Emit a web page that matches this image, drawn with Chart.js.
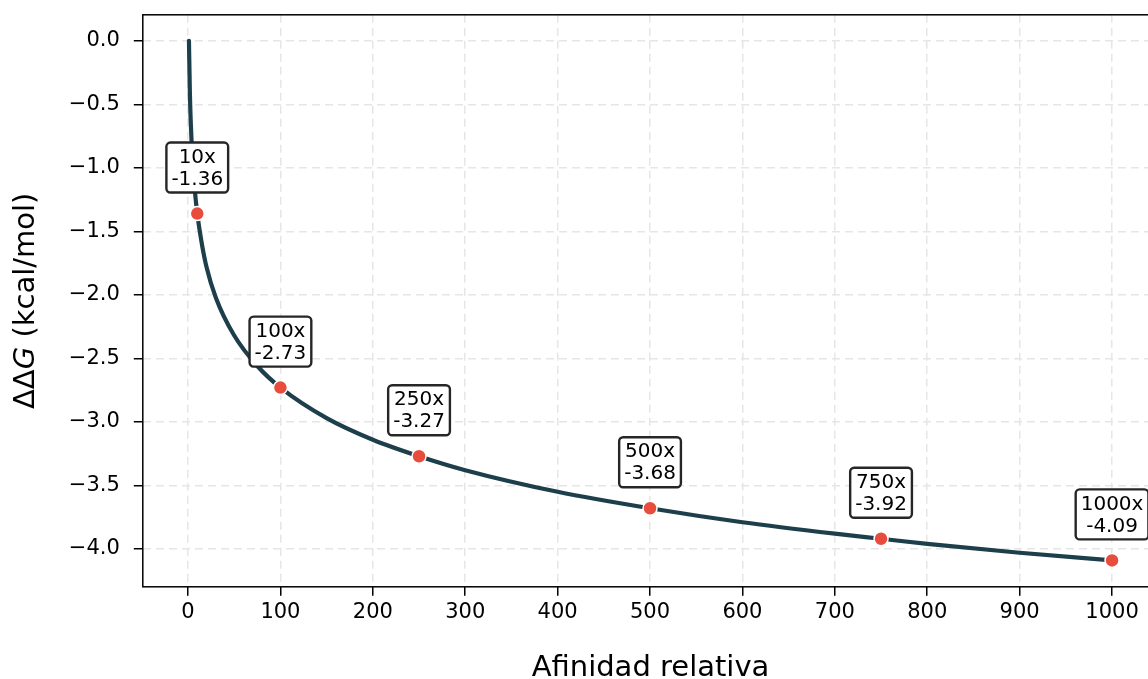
<!DOCTYPE html>
<html>
<head>
<meta charset="utf-8">
<script src="https://cdn.jsdelivr.net/npm/chart.js@4"></script>
<style>
  html, body { margin: 0; padding: 0; overflow: hidden; background: #fff; width: 1148px; height: 679px; }
  #wrap { position: absolute; left: 0; top: 0; width: 1170px; height: 679px; }
</style>
</head>
<body>
<div id="wrap"><canvas id="c" width="1170" height="679"></canvas></div>
<script>
// Binding free energy change vs. relative affinity
const curveX = [1, 2, 3, 5, 7, 10, 15, 20, 30, 50, 75, 100, 150, 200, 250, 300, 400, 500, 600, 700, 750, 800, 900, 1000];
const curveY = [0.00, -0.41, -0.65, -0.95, -1.15, -1.36, -1.60, -1.78, -2.02, -2.32, -2.56, -2.73, -2.97, -3.14, -3.27, -3.38, -3.55, -3.68, -3.79, -3.88, -3.92, -3.96, -4.03, -4.09];

// Highlighted affinity factors and their values
const markX = [10, 100, 250, 500, 750, 1000];
const markY = [-1.36, -2.73, -3.27, -3.68, -3.92, -4.09];

// Axis ticks
const xTicks = [0, 100, 200, 300, 400, 500, 600, 700, 800, 900, 1000];
const yTicks = [0.0, -0.5, -1.0, -1.5, -2.0, -2.5, -3.0, -3.5, -4.0];

const FONT = '"DejaVu Sans", "Liberation Sans", sans-serif';
const LINE_COLOR = '#1d3f4c';
const DOT_COLOR = '#e74c3c';

const fmtY = v => (v < 0 ? '\u2212' : '') + Math.abs(v).toFixed(1);
const fmtX = v => String(v);

const decorations = {
  id: 'decorations',
  afterDraw(chart) {
    const ctx = chart.ctx;
    const a = chart.chartArea;
    const xs = chart.scales.x, ys = chart.scales.y;
    ctx.save();

    // axes frame
    ctx.strokeStyle = '#000';
    ctx.lineWidth = 1.5;
    ctx.strokeRect(a.left, a.top, a.right - a.left, a.bottom - a.top);

    // value labels above the highlighted points
    ctx.font = '20px ' + FONT;
    ctx.textAlign = 'center';
    ctx.textBaseline = 'middle';
    markX.forEach((xv, i) => {
      const px = xs.getPixelForValue(xv);
      const py = ys.getPixelForValue(markY[i]);
      const l1 = xv + 'x';
      const l2 = markY[i].toFixed(2);
      const w = Math.max(ctx.measureText(l1).width, ctx.measureText(l2).width) + 10;
      const lh = 22;
      const h = 2 * lh + 6;
      const cy = py - 46;
      ctx.beginPath();
      ctx.roundRect(px - w / 2, cy - h / 2, w, h, 4);
      ctx.fillStyle = '#fff';
      ctx.fill();
      ctx.lineWidth = 2.4;
      ctx.strokeStyle = '#262626';
      ctx.stroke();
      ctx.fillStyle = '#000';
      ctx.fillText(l1, px, cy - lh / 2 + 1);
      ctx.fillText(l2, px, cy + lh / 2 + 1);
    });

    // x axis title
    ctx.fillStyle = '#000';
    ctx.font = '29px ' + FONT;
    ctx.textAlign = 'center';
    ctx.textBaseline = 'alphabetic';
    ctx.fillText('Afinidad relativa', (a.left + a.right) / 2, 676);

    // y axis title with italic G
    const parts = [
      { t: '\u0394\u0394', f: '29px ' + FONT },
      { t: 'G', f: 'italic 29px ' + FONT },
      { t: ' (kcal/mol)', f: '29px ' + FONT }
    ];
    let total = 0;
    parts.forEach(p => { ctx.font = p.f; p.w = ctx.measureText(p.t).width; total += p.w; });
    ctx.translate(34, (a.top + a.bottom) / 2);
    ctx.rotate(-Math.PI / 2);
    ctx.textAlign = 'left';
    let x0 = -total / 2;
    parts.forEach(p => { ctx.font = p.f; ctx.fillText(p.t, x0, 0); x0 += p.w; });
    ctx.restore();
  }
};

const zeroPad = s => { s.paddingTop = 0; s.paddingBottom = 0; s.paddingLeft = 0; s.paddingRight = 0; };

new Chart(document.getElementById('c'), {
  type: 'line',
  data: {
    datasets: [
      {
        data: markX.map((x, i) => ({ x, y: markY[i] })),
        showLine: false,
        pointRadius: 7,
        pointBackgroundColor: DOT_COLOR,
        pointBorderColor: '#fff',
        pointBorderWidth: 1.5,
        pointHoverRadius: 7
      },
      {
        data: curveX.map((x, i) => ({ x, y: curveY[i] })),
        borderColor: LINE_COLOR,
        borderWidth: 4.2,
        borderCapStyle: 'round',
        borderJoinStyle: 'round',
        pointRadius: 0,
        cubicInterpolationMode: 'monotone',
        fill: false
      }
    ]
  },
  options: {
    responsive: false,
    animation: false,
    devicePixelRatio: 1,
    layout: { padding: { top: 14.8, right: 11.8, left: 0, bottom: 0 }, autoPadding: false },
    plugins: { legend: { display: false }, tooltip: { enabled: false } },
    scales: {
      x: {
        type: 'linear',
        min: -48.95,
        max: 1049.95,
        afterBuildTicks: s => { s.ticks = xTicks.map(v => ({ value: v })); },
        afterFit: s => { s.height = 92.2; zeroPad(s); },
        ticks: { color: '#000', font: { family: FONT, size: 21 }, padding: 4, maxRotation: 0, autoSkip: false, callback: fmtX },
        grid: { color: '#e6e6e6', lineWidth: 1.5, tickColor: '#000', tickWidth: 1.5, tickLength: 9 },
        border: { display: false, dash: [8, 5] }
      },
      y: {
        type: 'linear',
        min: -4.298,
        max: 0.2047,
        afterBuildTicks: s => { s.ticks = yTicks.map(v => ({ value: v })); },
        afterFit: s => { s.width = 142.8; zeroPad(s); },
        ticks: { color: '#000', font: { family: FONT, size: 21 }, padding: 14, callback: fmtY, autoSkip: false },
        grid: { color: '#e6e6e6', lineWidth: 1.5, tickColor: '#000', tickWidth: 1.5, tickLength: 9 },
        border: { display: false, dash: [8, 5] }
      }
    }
  },
  plugins: [decorations]
});
</script>
</body>
</html>
